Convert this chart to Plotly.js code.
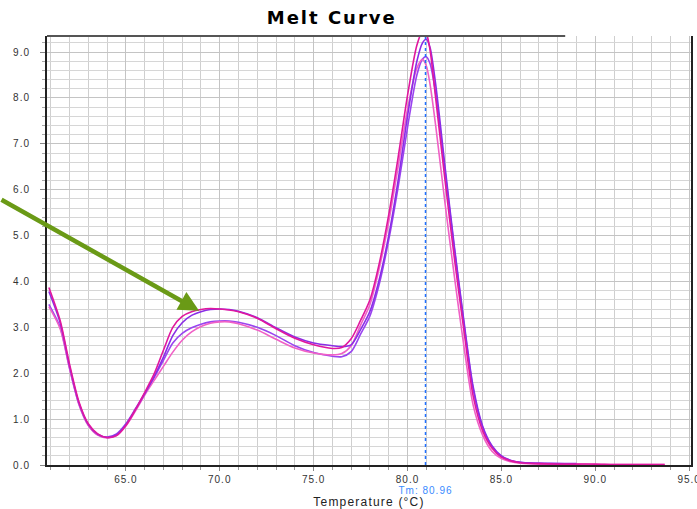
<!DOCTYPE html>
<html>
<head>
<meta charset="utf-8">
<script src="https://cdn.plot.ly/plotly-3.0.1.min.js"></script>
<style>
html,body{margin:0;padding:0;background:#fff;}
#chart{width:697px;height:509px;}
#chart .gtitle{letter-spacing:2px;}
#chart .xtick text, #chart .ytick text{letter-spacing:1px;}
#chart .xtitle{letter-spacing:1.2px;}
#chart .annotation-text{letter-spacing:1px;}
</style>
</head>
<body>
<div id="chart"></div>
<script>
// Temperatures (°C) at which the derivative curves were read
var temps = [60.9, 61.5, 62.0, 62.5, 63.0, 63.5, 64.0, 64.5, 65.0, 65.5, 66.0, 66.5, 67.0, 67.5, 68.0, 68.5, 69.0, 69.5, 70.0, 70.5, 71.0, 72.0, 73.0, 74.0, 75.0, 76.0, 76.5, 77.0, 77.5, 78.0, 78.5, 79.0, 79.5, 80.0, 80.5, 80.8, 81.0, 81.2, 81.5, 82.0, 82.5, 83.0, 83.5, 84.0, 84.5, 85.0, 85.5, 86.0, 87.0, 88.0, 89.0, 90.0, 91.0, 92.0, 93.0, 93.7];

// -d(RFU)/dT for the four wells
var magentaHigh = [3.87, 3.15, 2.2, 1.38, 0.9, 0.68, 0.6, 0.64, 0.86, 1.2, 1.58, 1.98, 2.5, 3.0, 3.24, 3.34, 3.39, 3.41, 3.4, 3.38, 3.34, 3.2, 2.97, 2.76, 2.62, 2.54, 2.56, 2.75, 3.15, 3.6, 4.4, 5.45, 6.7, 8.05, 9.15, 9.45, 9.4, 9.05, 8.0, 6.2, 4.5, 2.95, 1.5, 0.75, 0.37, 0.17, 0.09, 0.05, 0.03, 0.02, 0.02, 0.02, 0.01, 0.01, 0.01, 0.01];
var purpleHigh = [3.78, 3.1, 2.15, 1.35, 0.88, 0.67, 0.6, 0.66, 0.88, 1.2, 1.55, 1.92, 2.35, 2.82, 3.1, 3.26, 3.34, 3.39, 3.4, 3.39, 3.35, 3.21, 2.99, 2.79, 2.66, 2.6, 2.58, 2.62, 2.95, 3.35, 4.05, 5.0, 6.2, 7.6, 8.8, 9.2, 9.28, 9.1, 8.3, 6.5, 4.75, 3.15, 1.7, 0.85, 0.42, 0.2, 0.1, 0.06, 0.04, 0.03, 0.03];
var purpleLow = [3.5, 3.0, 2.12, 1.33, 0.87, 0.66, 0.61, 0.68, 0.9, 1.22, 1.56, 1.9, 2.28, 2.66, 2.87, 2.99, 3.07, 3.12, 3.14, 3.14, 3.11, 3.0, 2.82, 2.6, 2.45, 2.37, 2.36, 2.47, 2.85, 3.25, 3.95, 4.9, 6.05, 7.35, 8.5, 8.85, 8.9, 8.75, 8.1, 6.4, 4.7, 3.1, 1.65, 0.82, 0.4, 0.19, 0.1, 0.06, 0.03, 0.03, 0.02];
var magentaLow = [3.45, 2.97, 2.1, 1.32, 0.86, 0.65, 0.59, 0.64, 0.85, 1.17, 1.52, 1.84, 2.15, 2.46, 2.72, 2.9, 3.02, 3.09, 3.12, 3.12, 3.08, 2.94, 2.74, 2.55, 2.44, 2.4, 2.43, 2.6, 3.05, 3.5, 4.3, 5.3, 6.5, 7.75, 8.65, 8.84, 8.7, 8.3, 7.4, 5.7, 4.1, 2.6, 1.3, 0.65, 0.3, 0.14, 0.07, 0.04, 0.02, 0.02, 0.02, 0.01, 0.01, 0.01, 0.01, 0.01];

var tmValue = 80.96;
var tmLabel = 'Tm: 80.96';
var chartTitle = 'Melt Curve';
var xTitle = 'Temperature (°C)';

function series(y, color) {
  return {
    x: temps.slice(0, y.length), y: y, type: 'scatter', mode: 'lines',
    line: {color: color, width: 1.6, shape: 'spline', smoothing: 0.8},
    hoverinfo: 'skip', showlegend: false
  };
}

var data = [
  series(purpleLow, '#9a44f0'),
  series(magentaLow, '#f060c6'),
  series(purpleHigh, '#8a2de6'),
  series(magentaHigh, '#e0179e')
];

var xMin = 60.8, xMax = 95.1, yMax = 9.35;

var layout = {
  width: 697, height: 509,
  margin: {l: 47, r: 6, t: 36, b: 44},
  paper_bgcolor: '#ffffff', plot_bgcolor: '#ffffff',
  font: {family: 'Liberation Sans, Arial, sans-serif', color: '#222'},
  title: {
    text: '<b>' + chartTitle + '</b>', xref: 'container', x: 0.476, xanchor: 'center',
    yref: 'container', y: 0.966, yanchor: 'middle',
    font: {family: 'DejaVu Sans, sans-serif', size: 18, color: '#000'}
  },
  xaxis: {
    range: [xMin, xMax], tick0: 0, dtick: 5, tickformat: '.1f',
    showgrid: true, gridcolor: '#c4c4c4', gridwidth: 1,
    ticks: 'outside', ticklen: 4, tickcolor: '#888',
    tickfont: {size: 10, color: '#333'}, ticklabeloverflow: 'allow',
    showline: true, linecolor: '#222', linewidth: 2,
    zeroline: false,
    minor: {dtick: 1, showgrid: true, gridcolor: '#cfcfcf', gridwidth: 1, ticks: 'outside', ticklen: 3, tickcolor: '#999'},
    title: {text: xTitle, standoff: 17, font: {size: 12, color: '#222'}}
  },
  yaxis: {
    range: [0, yMax], tick0: 0, dtick: 1, tickformat: '.1f',
    showgrid: true, gridcolor: '#c4c4c4', gridwidth: 1,
    ticks: 'outside', ticklen: 5, tickcolor: '#888', ticklabelstandoff: 8,
    tickfont: {size: 10, color: '#333'},
    showline: true, linecolor: '#222', linewidth: 2, mirror: true,
    zeroline: false,
    minor: {dtick: 0.2, showgrid: true, gridcolor: '#d6d6d6', gridwidth: 1, ticks: 'outside', ticklen: 3, tickcolor: '#aaa'}
  },
  shapes: [
    {type: 'line', xref: 'x', yref: 'paper', x0: tmValue, x1: tmValue, y0: 0, y1: 1,
     line: {color: '#1f6fff', width: 1.5, dash: 'dot'}, layer: 'above'},
    {type: 'line', xref: 'x', yref: 'paper', x0: xMin, x1: 88.4, y0: 1, y1: 1,
     line: {color: '#555', width: 2}, layer: 'above'}
  ],
  annotations: [
    {xref: 'x', yref: 'paper', x: tmValue, y: 0, yanchor: 'top', yshift: -18,
     text: tmLabel, showarrow: false, font: {size: 10, color: '#3a8bff'}},
    {xref: 'x', yref: 'y', x: 68.9, y: 3.36, text: '', showarrow: true,
     axref: 'pixel', ayref: 'pixel', ax: -212, ay: -112,
     arrowhead: 2, arrowsize: 0.9, arrowwidth: 4.5, arrowcolor: '#6a9a16', standoff: 0}
  ]
};

Plotly.newPlot('chart', data, layout, {displayModeBar: false, staticPlot: true});
</script>
</body>
</html>
